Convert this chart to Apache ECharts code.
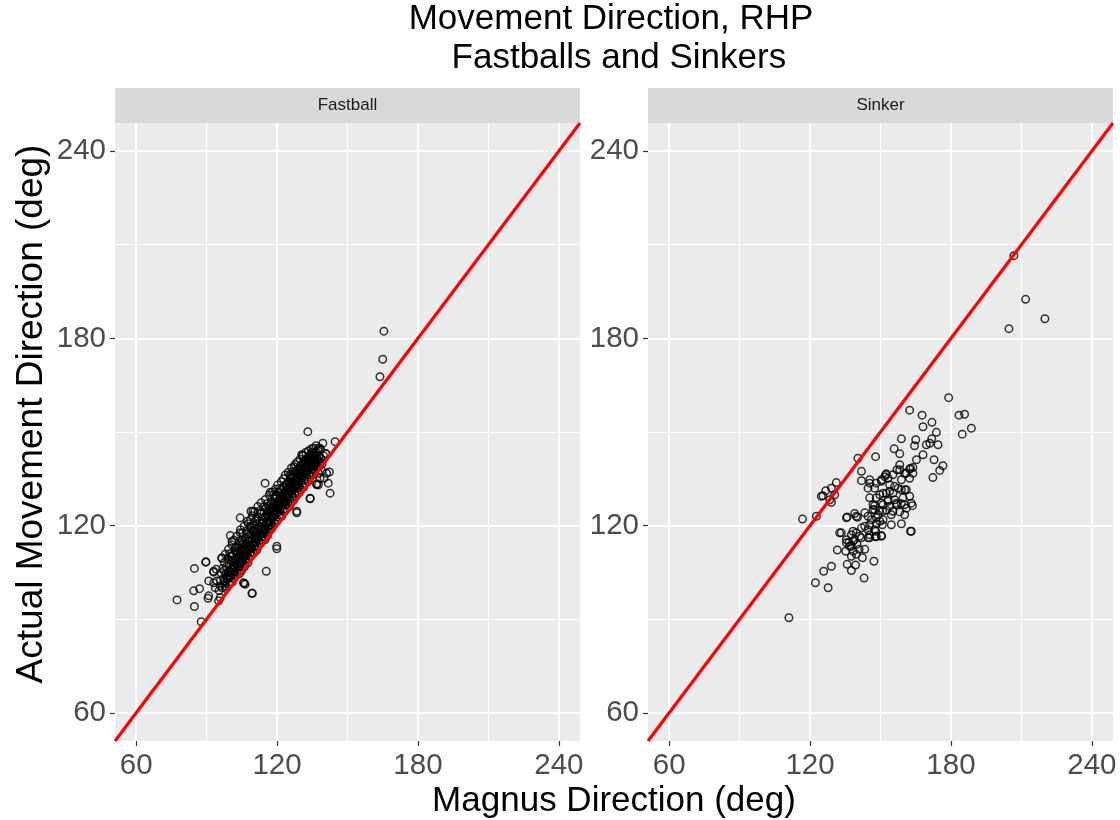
<!DOCTYPE html>
<html><head><meta charset="utf-8">
<script src="https://cdn.jsdelivr.net/npm/echarts@6/dist/echarts.min.js"></script>
<style>html,body{margin:0;padding:0;background:#fff}#c{width:1120px;height:820px}</style>
</head><body><div id="c"></div>
<script>
const panels = ['Fastball', 'Sinker'];
const axisLimits = [51, 249];
const tickValues = [60, 120, 180, 240];
const minorGridValues = [90, 150, 210];
const identityLine = [[51, 51], [249, 249]];

const fastballPoints = [
[77.4,96.2],[84.8,94.1],[84.5,99.1],[87.0,99.8],[90.9,97.5],[90.6,96.7],[84.8,106.3],[89.7,108.3],[93.0,105.1],[94.1,106.0],
[96.5,109.5],[100.1,116.8],[104.3,117.7],[100.8,115.0],[90.9,102.3],[93.0,101.7],[94.4,102.3],[95.8,100.7],[97.9,100.7],[93.7,100.1],
[95.8,96.9],[95.1,95.9],[99.4,103.3],[101.5,104.4],[105.7,101.7],[106.4,101.2],[109.3,98.3],[115.4,105.4],[104.3,111.8],[105.0,113.9],
[108.6,119.8],[107.4,121.4],[87.7,89.2],[135.5,144.8],[138.3,144.8],[140.9,143.0],[130.5,142.7],[134.1,142.7],[137.6,138.9],[127.3,138.9],
[125.6,135.8],[131.9,138.9],[138.3,135.2],[141.1,136.8],[141.8,133.6],[142.6,130.4],[136.9,133.4],[134.1,128.8],[128.4,124.6],[118.5,129.9],
[117.1,130.7],[114.9,133.6],[109.7,124.6],[104.3,122.5],[119.9,113.4],[114.9,115.5],[165.5,182.3],[165.0,173.3],[163.8,167.7],[133.1,150.1],
[144.7,146.9],[139.5,146.4],[131.0,142.4],[140.7,143.0],[142.3,137.2],[140.0,135.2],[134.1,128.6],[136.9,133.1],[128.4,124.1],[108.9,124.6],
[119.9,112.6],[109.5,98.3],[106.1,101.5],[89.7,108.4],[93.0,105.4],[96.5,109.7],[137.6,144.8],[136.2,142.5],[137.6,133.1],
[95.3,99.2],[95.8,102.4],[96.2,104.8],[96.6,100.1],[96.9,106.3],[97.2,103.1],[97.5,108.2],[97.8,101.6],
[98.1,104.5],[98.3,99.8],[98.5,106.9],[98.8,102.7],[99.0,109.4],[99.2,105.3],[99.5,101.2],[99.7,107.8],[99.9,111.0],
[100.2,103.6],[100.4,106.1],[100.6,108.7],[100.9,101.9],[101.1,110.3],[101.3,105.0],[101.5,107.4],[101.8,103.2],[101.9,112.1],
[102.1,106.6],[102.3,109.1],[102.5,104.0],[102.7,111.5],[102.9,107.7],[103.1,105.2],[103.3,113.0],[103.5,110.0],[103.8,108.3],[103.9,104.6],
[104.1,106.9],[104.3,110.8],[104.5,113.6],[104.7,108.9],[104.9,105.6],[105.1,115.2],[105.3,111.9],[105.5,107.6],[105.7,109.8],[105.9,113.1],
[106.1,106.8],[106.2,110.2],[106.4,116.1],[106.6,112.4],[106.8,108.5],[107.0,114.3],[107.2,110.9],[107.4,117.3],[107.6,108.1],[107.8,112.9],[107.9,115.4],
[108.1,109.6],[108.3,113.7],[108.5,111.3],[108.6,117.0],[108.8,119.1],[109.0,110.4],[109.2,115.6],[109.4,112.6],[109.6,118.2],[109.8,114.1],[109.9,120.4],
[110.1,111.2],[110.3,116.3],[110.4,113.4],[110.6,119.0],[110.8,121.6],[111.0,114.8],[111.2,117.7],[111.3,112.1],[111.5,120.2],[111.7,116.0],[111.9,122.8],
[112.0,113.3],[112.2,118.6],[112.4,115.1],[112.6,121.1],[112.8,117.2],[113.0,123.9],[113.1,114.4],[113.3,119.7],[113.5,116.5],[113.7,122.0],[113.9,118.4],
[114.0,115.2],[114.2,120.8],[114.4,117.6],[114.5,124.3],[114.7,122.6],[114.9,116.3],[115.1,119.2],[115.3,125.7],[115.5,121.4],[115.7,117.8],[115.9,123.5],
[116.0,116.9],[116.2,120.1],[116.4,122.9],[116.6,126.2],[116.8,118.7],[117.0,124.4],[117.2,121.5],[117.4,127.4],[117.6,118.9],[117.8,123.0],[117.9,125.6],
[118.1,119.8],[118.3,122.4],[118.5,127.0],[118.6,124.8],[118.8,120.6],[119.0,128.5],[119.2,123.6],[119.4,126.1],[119.6,121.3],[119.8,129.4],[119.9,125.0],
[120.1,121.9],[120.3,124.2],[120.5,127.8],[120.7,130.6],[120.9,122.7],[121.1,126.4],[121.3,129.0],[121.5,123.4],[121.7,131.5],[121.9,125.8],
[122.0,123.1],[122.2,127.3],[122.4,130.0],[122.6,125.2],[122.8,132.4],[123.0,128.4],[123.2,124.5],[123.4,131.0],[123.6,126.7],[123.8,133.2],[123.9,129.6],
[124.1,125.3],[124.3,128.9],[124.5,131.8],[124.7,127.1],[124.9,134.0],[125.1,130.3],[125.3,126.2],[125.5,132.9],[125.7,128.0],[125.9,135.1],
[126.0,127.2],[126.2,130.9],[126.4,133.7],[126.6,129.1],[126.8,135.8],[127.0,131.6],[127.2,128.3],[127.4,134.4],[127.6,130.2],[127.8,137.0],[127.9,132.8],
[128.1,129.5],[128.3,133.1],[128.5,135.5],[128.7,131.0],[128.9,138.1],[129.1,134.2],[129.3,130.4],[129.5,136.6],[129.7,132.2],[129.9,139.0],
[130.1,131.4],[130.3,135.0],[130.5,137.4],[130.7,133.0],[130.9,140.1],[131.1,136.0],[131.3,132.3],[131.5,138.5],[131.7,134.5],[131.9,141.0],
[132.1,133.4],[132.3,136.8],[132.5,139.3],[132.7,135.1],[132.9,141.6],[133.1,137.9],[133.3,134.2],[133.5,140.4],[133.7,136.3],[133.9,142.2],
[134.1,135.6],[134.3,139.0],[134.5,141.3],[134.7,137.1],[134.9,143.4],[135.1,138.2],[135.3,140.5],[135.5,136.4],[135.7,142.0],[135.9,139.6],
[136.1,137.5],[136.4,141.1],[136.7,143.5],[137.0,138.9],[137.3,140.8],[137.6,136.8],[137.9,142.4],[138.2,139.2],[138.6,141.6],[139.0,137.7],
[97.4,105.6],[98.0,110.9],[98.6,103.5],[99.3,112.4],[99.8,104.2],[100.3,110.1],[100.8,113.8],[101.2,109.0],[101.6,115.3],[102.0,108.2],
[102.4,113.0],[102.8,116.6],[103.2,111.4],[103.6,106.9],[104.0,115.1],[104.4,118.7],[104.8,112.3],[105.2,117.6],[105.6,114.6],[106.0,119.9],
[106.5,109.3],[106.9,118.2],[107.3,113.2],[107.7,120.6],[108.2,115.2],[108.7,121.9],[109.1,117.4],[109.5,123.2],[110.0,118.4],[110.5,124.5],
[110.9,115.8],[111.4,122.1],[111.8,126.1],[112.3,119.6],[112.7,124.7],[113.2,127.3],[113.6,120.9],[114.1,126.0],[114.6,119.0],[115.0,128.4],
[115.4,123.0],[115.8,127.1],[116.3,124.6],[116.7,129.8],[117.1,120.2],[117.5,126.0],[118.0,130.8],[118.4,125.4],[118.9,129.2],[119.3,131.7],
[119.7,127.0],[120.2,133.0],[120.6,125.4],[121.0,131.9],[121.4,127.6],[121.8,134.1],[122.3,129.3],[122.7,135.0],[123.1,130.4],[123.5,136.2],
[123.9,127.8],[124.4,133.0],[124.8,137.1],[125.2,132.0],[125.6,136.4],[126.1,138.5],[126.5,132.2],[126.9,137.3],[127.3,133.3],[127.7,139.6],
[128.2,136.3],[128.6,140.4],[129.0,132.6],[129.4,137.8],[129.8,141.3],[130.2,135.9],[130.6,139.2],[131.0,142.6],[131.4,137.3],[131.8,139.9],
[132.2,143.4],[132.6,138.4],[133.0,140.9],[133.4,144.0],[133.8,138.6],[134.2,141.9],[134.6,144.6],[135.0,140.2],[135.4,143.1],[135.8,137.9],
[136.2,139.9],[136.6,145.6],[137.1,141.7],[137.5,143.9],[138.0,140.4],[138.5,144.3],[139.2,139.8],[139.8,142.4],
[97.6,102.2],[98.9,104.0],[100.0,105.2],[101.0,106.3],[102.2,105.5],[103.0,109.6],[104.2,108.1],[105.0,110.4],[105.8,112.0],[106.7,111.0],
[107.5,111.7],[108.4,112.4],[109.3,114.9],[110.2,114.6],[111.1,116.5],[112.1,116.9],[112.9,118.9],[113.8,117.4],[114.8,120.0],[115.6,120.6],
[116.5,121.3],[117.3,122.7],[118.2,123.2],[119.1,124.1],[120.0,125.7],[120.8,127.2],[121.6,128.2],[122.5,128.6],[123.3,129.2],[124.2,130.1],
[125.0,131.1],[125.8,133.8],[126.7,134.0],[127.5,135.4],[128.4,134.4],[129.2,135.6],[130.0,136.7],[130.9,137.8],[131.6,140.3],[132.4,140.7],
[133.2,139.2],[134.0,140.6],[134.8,142.3],[135.6,141.2]
];

const sinkerPoints = [
[179.0,161.0],[162.4,157.0],[167.7,155.4],[171.9,153.1],[168.1,151.7],[183.4,155.4],[185.8,155.7],[188.7,151.2],[184.8,149.3],[173.8,149.9],
[158.9,147.8],[165.0,147.5],[171.8,147.8],[169.5,145.9],[171.0,146.4],[174.5,145.9],[164.5,145.6],[155.8,144.6],[158.2,143.0],[168.1,142.7],
[172.8,141.1],[165.3,141.1],[147.9,142.1],[140.4,141.6],[176.6,139.2],[175.2,137.7],[172.3,135.4],[163.8,138.6],[162.4,138.1],[158.2,139.5],
[157.0,137.9],[160.3,136.8],[162.4,135.2],[158.9,134.7],[152.5,136.6],[151.8,135.7],[150.4,134.7],[141.9,137.4],[141.9,134.4],[145.4,133.6],
[148.2,133.6],[144.7,132.0],[153.9,133.1],[156.0,132.6],[158.9,131.5],[161.0,131.5],[155.3,130.4],[152.5,130.4],[149.7,129.9],[145.4,128.9],
[148.2,128.9],[153.2,128.3],[156.0,128.3],[159.6,128.9],[162.4,129.4],[163.1,127.2],[163.6,126.4],[158.9,127.0],[156.8,126.7],[153.9,126.2],
[151.1,126.7],[147.5,126.4],[146.8,125.1],[149.6,124.8],[152.5,124.9],[155.3,124.6],[158.2,124.4],[160.3,123.5],[161.0,125.6],[143.3,124.1],
[144.7,123.0],[139.0,123.9],[135.8,122.8],[140.2,122.7],[148.2,122.5],[151.1,121.9],[148.2,120.6],[145.4,120.3],[150.8,120.3],[154.6,120.3],
[158.9,120.6],[141.9,119.3],[144.7,118.7],[139.7,117.7],[148.0,118.2],[150.4,116.8],[148.0,116.4],[145.4,116.1],[163.1,118.2],[141.1,116.6],
[137.6,117.1],[132.6,117.7],[139.0,115.5],[136.6,114.7],[135.5,114.5],[137.6,113.4],[140.0,114.0],[140.9,112.4],[138.3,111.8],[143.3,112.4],
[135.2,111.8],[131.6,112.2],[137.6,110.2],[139.7,110.8],[142.3,109.7],[147.2,108.6],[135.8,107.6],[139.4,107.4],[137.6,105.6],[129.1,107.0],
[125.8,105.4],[122.3,101.7],[127.7,100.1],[143.0,103.2],[111.0,90.5],[116.8,122.1],[122.7,123.0],[125.5,129.6],[126.7,131.2],[129.1,132.0],
[131.2,133.8],[130.5,129.9],[128.4,128.3],[129.1,127.5],[124.8,129.4],[145.4,134.7],
[152.2,136.3],[153.2,135.2],[155.3,136.3],[158.2,137.9],[161.0,136.8],[162.8,138.4],[163.8,136.8],[147.5,132.0],[150.4,134.2],[151.1,130.4],
[153.9,131.0],[157.5,132.0],[160.3,131.5],[160.3,126.7],[156.8,127.2],[153.2,127.8],[150.4,127.2],[146.8,126.7],[147.5,125.1],[150.9,124.6],
[154.6,123.5],[148.9,123.5],[149.7,121.4],[146.1,121.9],[162.8,118.2],[147.5,118.7],[145.4,117.1],[143.3,119.8],[139.7,123.0],[135.5,122.5],
[138.3,118.2],[135.5,115.5],[138.3,115.0],[141.8,116.1],[144.7,116.1],[148.2,116.6],[150.4,116.6],[133.3,117.7],[136.9,113.4],
[206.8,206.5],[211.8,192.5],[220.0,186.3],[204.7,183.1]
];

const FONT = '"Liberation Sans", Arial, Helvetica, sans-serif';
const panelBoxes = [
  { left: 115, top: 123, width: 465, height: 618 },
  { left: 648, top: 123, width: 465, height: 618 }
];
const panelData = [fastballPoints, sinkerPoints];

function makeAxis(gi, isX) {
  return {
    type: 'value', gridIndex: gi, min: axisLimits[0], max: axisLimits[1],
    axisLine: { show: false },
    splitLine: { show: false },
    minorTick: { show: false },
    axisTick: { show: true, customValues: tickValues, length: 5, lineStyle: { color: '#333333', width: 1.2 } },
    axisLabel: { show: true, customValues: tickValues, color: '#4D4D4D', fontSize: 29.5, fontFamily: FONT, margin: isX ? 10 : 9 }
  };
}

const grids = panelBoxes.map(b => ({
  left: b.left, top: b.top, width: b.width, height: b.height,
  show: true, backgroundColor: '#EBEBEB', borderWidth: 0, containLabel: false
}));
const xAxes = panelBoxes.map((b, i) => makeAxis(i, true));
const yAxes = panelBoxes.map((b, i) => makeAxis(i, false));

const series = [];
panelBoxes.forEach((b, i) => {
  const gridLines = [];
  minorGridValues.forEach(v => {
    gridLines.push({ xAxis: v, lineStyle: { color: '#FFFFFF', width: 1, type: 'solid' } });
    gridLines.push({ yAxis: v, lineStyle: { color: '#FFFFFF', width: 1, type: 'solid' } });
  });
  tickValues.forEach(v => {
    gridLines.push({ xAxis: v, lineStyle: { color: '#FFFFFF', width: 2, type: 'solid' } });
    gridLines.push({ yAxis: v, lineStyle: { color: '#FFFFFF', width: 2, type: 'solid' } });
  });
  series.push({
    type: 'scatter', xAxisIndex: i, yAxisIndex: i, data: [], z: 1, silent: true,
    markLine: { z: 1, silent: true, symbol: ['none', 'none'], label: { show: false }, animation: false,
      emphasis: { disabled: true }, data: gridLines }
  });
  series.push({
    type: 'scatter', xAxisIndex: i, yAxisIndex: i, data: panelData[i], z: 3,
    symbol: 'circle', symbolSize: 7.5, silent: true,
    itemStyle: { color: 'rgba(0,0,0,0)', borderColor: '#000000', borderWidth: 1.5 },
    emphasis: { disabled: true }
  });
  series.push({
    type: 'line', xAxisIndex: i, yAxisIndex: i, data: identityLine, z: 4,
    symbol: 'none', silent: true, clip: true,
    lineStyle: { color: '#FF0000', width: 3.2 }
  });
});

const graphics = [];
panelBoxes.forEach((b, i) => {
  graphics.push({ type: 'rect', shape: { x: b.left, y: 88, width: b.width, height: 35 }, style: { fill: '#D9D9D9' }, silent: true });
  graphics.push({ type: 'text', x: b.left + b.width / 2, y: 105.5,
    style: { text: panels[i], font: '17px ' + FONT, fill: '#1A1A1A', align: 'center', verticalAlign: 'middle' }, silent: true });
});
graphics.push({ type: 'text', x: 611, y: 19, style: { text: 'Movement Direction, RHP', font: '35px ' + FONT, fill: '#000000', align: 'center', verticalAlign: 'middle' } });
graphics.push({ type: 'text', x: 614, y: 58, style: { text: ' Fastballs and Sinkers', font: '35px ' + FONT, fill: '#000000', align: 'center', verticalAlign: 'middle' } });
graphics.push({ type: 'text', x: 614, y: 801, style: { text: 'Magnus Direction (deg)', font: '35px ' + FONT, fill: '#000000', align: 'center', verticalAlign: 'middle' } });
graphics.push({ type: 'text', x: 32, y: 414, rotation: Math.PI / 2, style: { text: 'Actual Movement Direction (deg)', font: '37px ' + FONT, fill: '#000000', align: 'center', verticalAlign: 'middle' } });

const chart = echarts.init(document.getElementById('c'), null, { renderer: 'canvas' });
chart.setOption({
  animation: false,
  backgroundColor: '#FFFFFF',
  grid: grids,
  xAxis: xAxes,
  yAxis: yAxes,
  series: series,
  graphic: graphics
});
</script></body></html>
